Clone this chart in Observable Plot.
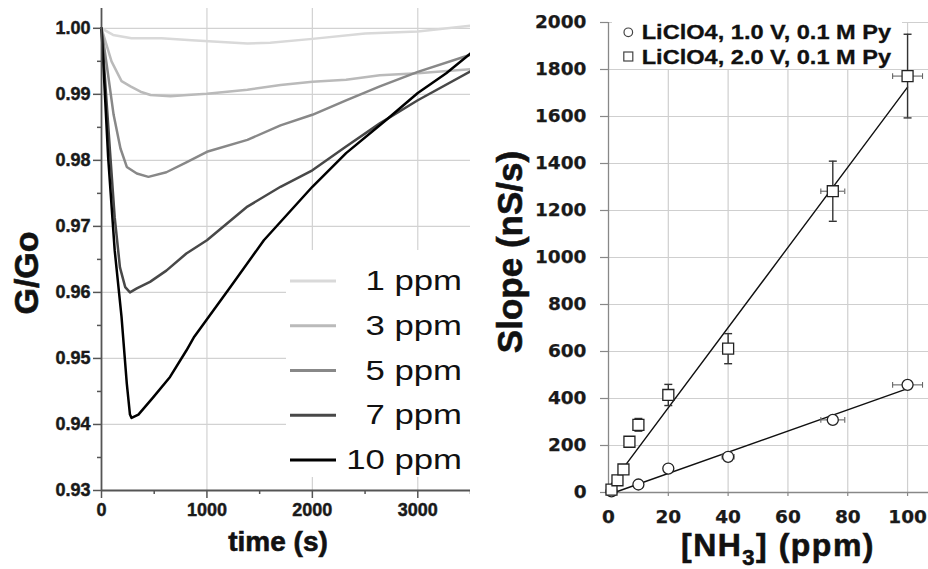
<!DOCTYPE html>
<html>
<head>
<meta charset="utf-8">
<script src="https://cdn.jsdelivr.net/npm/d3@7"></script>
<script src="https://cdn.jsdelivr.net/npm/@observablehq/plot@0.6"></script>
<style>
html, body { margin: 0; padding: 0; background: #fff; }
#wrap { position: relative; width: 928px; height: 569px; overflow: hidden; background: #fff; }
.panel { position: absolute; top: 0; }
.lab { position: absolute; font-family: "Liberation Sans", Arial, sans-serif; font-weight: bold; color: #111; white-space: nowrap; line-height: 1; -webkit-text-stroke: 0.6px #111; }
.leg { position: absolute; }
#left svg text { stroke: #1a1a1a; stroke-width: 0.45px; }
#right svg text { stroke: #1a1a1a; stroke-width: 0.25px; }
</style>
</head>
<body>
<div id="wrap">
  <div id="left" class="panel" style="left:0;width:470px;"></div>
  <div id="right" class="panel" style="left:480px;width:448px;"></div>
  <div class="lab" style="left:26px;top:273px;font-size:34px;transform:translate(-50%,-50%) rotate(-90deg);">G/Go</div>
  <div class="lab" style="left:278px;top:542px;font-size:28px;transform:translate(-50%,-50%);">time (s)</div>
  <div class="lab" style="left:509px;top:252px;font-size:35px;transform:translate(-50%,-50%) rotate(-90deg);">Slope (nS/s)</div>
  <div class="lab" style="left:778px;top:545px;font-size:32px;letter-spacing:1.5px;transform:translate(-50%,-50%);">[NH<span style="font-size:22px;position:relative;top:9px;">3</span>] (ppm)</div>
  <div id="leftLegend" class="leg" style="left:286px;top:250px;"></div>
  <div id="rightLegend" class="leg" style="left:612px;top:20px;"></div>
</div>
<script>
// ---------- Left panel data: G/Go vs time ----------
const concentrations = ["1 ppm", "3 ppm", "5 ppm", "7 ppm", "10 ppm"];

const time1 = [0, 110, 285, 570, 855, 1384, 1600, 2000, 2500, 3000, 3500];
const ratio1 = [1.0, 0.999, 0.9985, 0.9985, 0.9982, 0.9977, 0.9978, 0.9984, 0.9992, 0.9995, 1.0004];

const time3 = [0, 95, 190, 275, 370, 465, 655, 815, 1000, 1384, 1698, 2000, 2320, 2640, 3000, 3500];
const ratio3 = [1.0, 0.995, 0.992, 0.9912, 0.9904, 0.9899, 0.9897, 0.9899, 0.9901, 0.9907, 0.9914, 0.9919, 0.9922, 0.9929, 0.9932, 0.9938];

const time5 = [0, 50, 115, 180, 240, 335, 445, 615, 805, 1000, 1384, 1698, 2000, 2320, 2640, 3000, 3500];
const ratio5 = [1.0, 0.9944, 0.9869, 0.9818, 0.979, 0.978, 0.9775, 0.9782, 0.9797, 0.9813, 0.9831, 0.9853, 0.9869, 0.9891, 0.9912, 0.9934, 0.9960];

const time7 = [0, 80, 125, 175, 225, 270, 335, 460, 615, 805, 1000, 1384, 1698, 2000, 2320, 2640, 3000, 3500];
const ratio7 = [1.0, 0.9815, 0.9714, 0.9638, 0.9608, 0.960, 0.9606, 0.9616, 0.9633, 0.9659, 0.9679, 0.973, 0.976, 0.9785, 0.9821, 0.9856, 0.9891, 0.9935];

const time10 = [0, 63, 125, 190, 240, 270, 285, 350, 490, 650, 805, 880, 1226, 1540, 2000, 2320, 2700, 3000, 3270, 3500];
const ratio10 = [1.0, 0.9805, 0.9664, 0.9563, 0.9462, 0.9415, 0.941, 0.9415, 0.9441, 0.9472, 0.9512, 0.9533, 0.9609, 0.9679, 0.976, 0.9811, 0.9861, 0.9902, 0.9932, 0.9962];

const leftYTicks = [0.93, 0.94, 0.95, 0.96, 0.97, 0.98, 0.99, 1.00];
const leftYMinor = [0.935, 0.945, 0.955, 0.965, 0.975, 0.985, 0.995];
const leftXTicks = [0, 1000, 2000, 3000];
const leftXMinor = [500, 1500, 2500, 3500];

// ---------- Right panel data: slope vs [NH3] ----------
const seriesNames = ["LiClO4, 1.0 V, 0.1 M Py", "LiClO4, 2.0 V, 0.1 M Py"];

const conc1V = [1, 10, 20, 40, 75, 100];
const slope1V = [5, 34, 102, 152, 309, 458];
const xErr1V = [0, 0, 0, 2, 4, 5];

const conc2V = [1, 3, 5, 7, 10, 20, 40, 75, 100];
const slope2V = [12, 52, 98, 216, 288, 415, 612, 1282, 1772];
const yErr2V = [0, 0, 0, 0, 27, 45, 64, 128, 178];
const xErr2V = [0, 0, 0, 0, 0, 0, 0, 4, 5];

const fitX1V = [2, 100];
const fitY1V = [0, 442];
const fitX2V = [0.5, 100];
const fitY2V = [28, 1725];

const rightYTicks = [0, 200, 400, 600, 800, 1000, 1200, 1400, 1600, 1800, 2000];
const rightXTicks = [0, 20, 40, 60, 80, 100];

// ---------- styles ----------
const seriesColors = ["#d9d9d9", "#bababa", "#888888", "#484848", "#000000"];

// ---------- build tables ----------
const curveTimes = [time1, time3, time5, time7, time10];
const curveRatios = [ratio1, ratio3, ratio5, ratio7, ratio10];
const curveRows = concentrations.flatMap((name, i) =>
  curveTimes[i].map((t, j) => ({name, t, g: curveRatios[i][j]})));

const pts1V = conc1V.map((c, i) => ({c, s: slope1V[i], xe: xErr1V[i]}));
const pts2V = conc2V.map((c, i) => ({c, s: slope2V[i], ye: yErr2V[i], xe: xErr2V[i]}));
const fitRows = [
  ...fitX1V.map((c, i) => ({k: "a", c, s: fitY1V[i]})),
  ...fitX2V.map((c, i) => ({k: "b", c, s: fitY2V[i]}))
];

const hcap = {draw(ctx, size) { const w = Math.sqrt(size) / 2; ctx.moveTo(-w, 0); ctx.lineTo(w, 0); }};
const vcap = {draw(ctx, size) { const w = Math.sqrt(size) / 2; ctx.moveTo(0, -w); ctx.lineTo(0, w); }};

const fmt2 = d3.format(".2f");
const fmtInt = d3.format("d");

// ---------- left plot ----------
const leftPlot = Plot.plot({
  width: 470, height: 569,
  marginLeft: 101, marginRight: 0, marginTop: 8, marginBottom: 79,
  x: {domain: [0, 3500], label: null},
  y: {domain: [0.93, 1.003], label: null},
  color: {domain: concentrations, range: seriesColors},
  style: {fontFamily: "'Liberation Sans', Arial, sans-serif", fontSize: "18px", fontWeight: "bold", color: "#1a1a1a", background: "white"},
  marks: [
    Plot.gridY(leftYTicks.filter(d => d > 0.93), {stroke: "#d2d2d2", strokeOpacity: 1, strokeWidth: 1.2}),
    Plot.gridX(leftXTicks.filter(d => d > 0), {stroke: "#d2d2d2", strokeOpacity: 1, strokeWidth: 1.2}),
    Plot.line(curveRows, {x: "t", y: "g", z: "name", stroke: "name", strokeWidth: 2.5}),
    Plot.axisY(leftYTicks, {tickSize: 8, tickPadding: 3, tickFormat: fmt2, label: null, stroke: "#555", strokeWidth: 1.5}),
    Plot.axisY(leftYMinor, {tickSize: 4, tickPadding: 0, tickFormat: () => "", label: null, stroke: "#555", strokeWidth: 1.5}),
    Plot.axisX(leftXTicks, {tickSize: 8, tickPadding: 5, tickFormat: fmtInt, label: null, stroke: "#555", strokeWidth: 1.5}),
    Plot.axisX(leftXMinor, {tickSize: 4, tickPadding: 0, tickFormat: () => "", label: null, stroke: "#555", strokeWidth: 1.5}),
    Plot.ruleX([0], {stroke: "#555", strokeWidth: 1.8}),
    Plot.ruleY([0.93], {stroke: "#555", strokeWidth: 1.8})
  ]
});
document.getElementById("left").append(leftPlot);

// ---------- right plot ----------
const rightPlot = Plot.plot({
  width: 448, height: 569,
  marginLeft: 128, marginRight: 0, marginTop: 22, marginBottom: 77,
  x: {domain: [0, 107], label: null},
  y: {domain: [0, 2000], label: null},
  style: {fontFamily: "'DejaVu Sans', sans-serif", fontSize: "18.5px", fontWeight: "bold", color: "#1a1a1a", background: "white"},
  marks: [
    Plot.gridY(rightYTicks.filter(d => d > 0), {stroke: "#cfcfcf", strokeOpacity: 1, strokeWidth: 1.2}),
    Plot.gridX(rightXTicks.filter(d => d > 0), {stroke: "#cfcfcf", strokeOpacity: 1, strokeWidth: 1.2}),
    Plot.axisY(rightYTicks, {tickSize: 8, tickPadding: 14, tickFormat: fmtInt, label: null, stroke: "#888", strokeWidth: 1.2}),
    Plot.axisX(rightXTicks, {tickSize: 4, tickPadding: 13, tickFormat: fmtInt, label: null, stroke: "#888", strokeWidth: 1.2}),
    Plot.ruleX([0], {stroke: "#888", strokeWidth: 1.3}),
    Plot.ruleY([0], {stroke: "#888", strokeWidth: 1.3}),
    Plot.line(fitRows, {x: "c", y: "s", z: "k", stroke: "#111", strokeWidth: 1.4}),
    // vertical error bars (2.0 V)
    Plot.ruleX(pts2V.filter(d => d.ye > 0), {x: "c", y1: d => d.s - d.ye, y2: d => d.s + d.ye, stroke: "#333", strokeWidth: 1.4}),
    Plot.dot(pts2V.filter(d => d.ye > 0), {x: "c", y: d => d.s + d.ye, symbol: hcap, r: 4.5, fill: "none", stroke: "#333", strokeWidth: 1.4}),
    Plot.dot(pts2V.filter(d => d.ye > 0), {x: "c", y: d => d.s - d.ye, symbol: hcap, r: 4.5, fill: "none", stroke: "#333", strokeWidth: 1.4}),
    // horizontal error bars
    Plot.ruleY([...pts1V, ...pts2V].filter(d => d.xe > 0), {y: "s", x1: d => d.c - d.xe, x2: d => d.c + d.xe, stroke: "#666", strokeWidth: 1.1}),
    Plot.dot([...pts1V, ...pts2V].filter(d => d.xe > 0), {x: d => d.c - d.xe, y: "s", symbol: vcap, r: 3.2, fill: "none", stroke: "#666", strokeWidth: 1.1}),
    Plot.dot([...pts1V, ...pts2V].filter(d => d.xe > 0), {x: d => d.c + d.xe, y: "s", symbol: vcap, r: 3.2, fill: "none", stroke: "#666", strokeWidth: 1.1}),
    // markers
    Plot.dot(pts1V, {x: "c", y: "s", r: 5.5, fill: "white", stroke: "#222", strokeWidth: 1.3}),
    Plot.dot(pts2V, {x: "c", y: "s", symbol: "square", r: 6.2, fill: "white", stroke: "#222", strokeWidth: 1.3})
  ]
});
document.getElementById("right").append(rightPlot);

// ---------- left legend ----------
{
  const svg = d3.select("#leftLegend").append("svg").attr("width", 184).attr("height", 227);
  svg.append("rect").attr("width", 184).attr("height", 227).attr("fill", "white");
  concentrations.forEach((name, i) => {
    const y = 31 + i * 44.75;
    svg.append("line").attr("x1", 4).attr("x2", 50).attr("y1", y).attr("y2", y)
      .attr("stroke", seriesColors[i]).attr("stroke-width", 3);
    svg.append("text").attr("transform", `translate(176,${y + 9}) scale(1.24,1)`)
      .attr("text-anchor", "end").attr("font-family", "'Liberation Sans', Arial, sans-serif")
      .attr("font-size", 28).attr("fill", "#111").text(name);
  });
}

// ---------- right legend ----------
{
  const svg = d3.select("#rightLegend").append("svg").attr("width", 290).attr("height", 49);
  svg.append("rect").attr("width", 290).attr("height", 49).attr("fill", "white");
  const ys = [12.3, 36.5];
  seriesNames.forEach((name, i) => {
    const y = ys[i];
    if (i === 0) {
      svg.append("circle").attr("cx", 16.3).attr("cy", y).attr("r", 4.3)
        .attr("fill", "white").attr("stroke", "#444").attr("stroke-width", 1.2);
    } else {
      svg.append("rect").attr("x", 11.8).attr("y", y - 4.5).attr("width", 9).attr("height", 9)
        .attr("fill", "white").attr("stroke", "#444").attr("stroke-width", 1.2);
    }
    svg.append("text").attr("transform", `translate(29.7,${y + 7}) scale(1.21,1)`)
      .attr("font-family", "'Liberation Sans', Arial, sans-serif").attr("font-weight", "bold")
      .attr("font-size", 19.5).attr("fill", "#111").attr("stroke", "#111").attr("stroke-width", 0.3).text(name);
  });
}
</script>
</body>
</html>
